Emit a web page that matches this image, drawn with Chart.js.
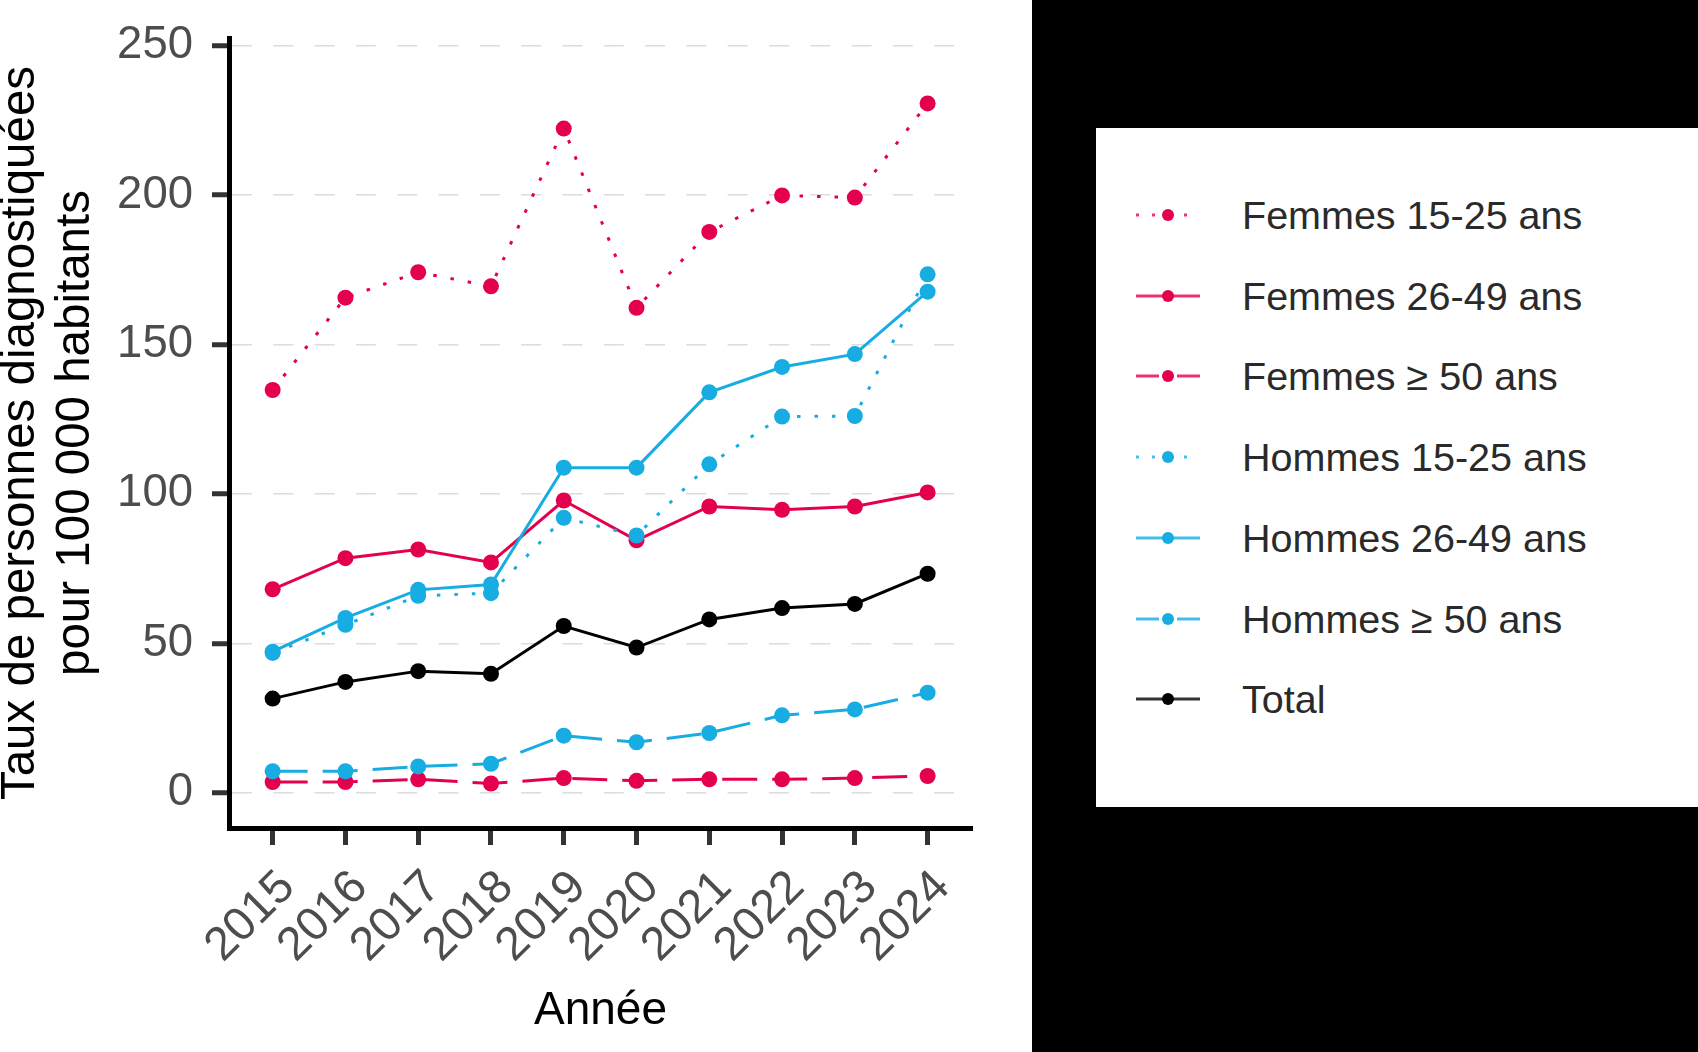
<!DOCTYPE html>
<html lang="fr">
<head>
<meta charset="utf-8">
<title>Taux de personnes diagnostiquées</title>
<script src="https://cdn.jsdelivr.net/npm/chart.js@4.4.1/dist/chart.umd.min.js"></script>
<style>
  html, body { margin: 0; padding: 0; background: #000; }
  #wrap { position: relative; width: 1698px; height: 1052px; overflow: hidden; }
  #left { position: absolute; left: 0; top: 0; width: 1032px; height: 1052px; background: #fff; }
  #legend { position: absolute; left: 1096px; top: 128px; width: 602px; height: 679px; background: #fff;
            font-family: 'Liberation Sans', Arial, sans-serif; }
  .item { position: absolute; left: 0; height: 40px; display: flex; align-items: center; }
  .item canvas { margin-left: 32px; }
  .item span { position: absolute; left: 146px; font-size: 39.5px; color: #2a2a2a; white-space: nowrap; }
</style>
</head>
<body>
<div id="wrap">
  <div id="left"><canvas id="chart" width="1032" height="1052"></canvas></div>
  <div id="legend"></div>
</div>
<script>
  const years = [2015, 2016, 2017, 2018, 2019, 2020, 2021, 2022, 2023, 2024];
  const femmes1525 = [134.8, 165.7, 174.2, 169.5, 222.3, 162.3, 187.7, 199.9, 199.2, 230.7];
  const femmes2649 = [68.1, 78.5, 81.4, 77.1, 97.8, 84.5, 95.8, 94.7, 95.8, 100.5];
  const femmes50 = [3.6, 3.6, 4.5, 3.1, 4.9, 4.0, 4.5, 4.5, 4.9, 5.6];
  const hommes1525 = [46.8, 56.2, 65.9, 66.8, 92.0, 86.1, 109.9, 125.9, 126.1, 173.5];
  const hommes2649 = [47.2, 58.5, 67.9, 69.7, 108.8, 108.8, 134.0, 142.5, 146.8, 167.7];
  const hommes50 = [7.2, 7.2, 8.8, 9.7, 19.1, 16.9, 20.0, 25.9, 27.9, 33.5];
  const total = [31.5, 37.1, 40.7, 39.8, 55.8, 48.6, 58.0, 61.8, 63.2, 73.3];
  const yTicks = [0, 50, 100, 150, 200, 250];

  const PINK = "#e4004f";
  const BLUE = "#17ade2";
  const FONT = "'Liberation Sans', Arial, sans-serif";

  const DOTTED = [3.5, 14];
  const LONGDASH = [35, 15];

  const series = [
    { label: "Femmes 15-25 ans", values: femmes1525, color: PINK, dash: DOTTED, legendDash: [3, 13] },
    { label: "Femmes 26-49 ans", values: femmes2649, color: PINK, dash: [], legendDash: [] },
    { label: "Femmes \u2265 50 ans", values: femmes50, color: PINK, dash: LONGDASH, legendDash: [23, 18] },
    { label: "Hommes 15-25 ans", values: hommes1525, color: BLUE, dash: DOTTED, legendDash: [3, 13] },
    { label: "Hommes 26-49 ans", values: hommes2649, color: BLUE, dash: [], legendDash: [] },
    { label: "Hommes \u2265 50 ans", values: hommes50, color: BLUE, dash: LONGDASH, legendDash: [23, 18] },
    { label: "Total", values: total, color: "#000", dash: [], legendDash: [] },
  ];

  const datasets = series.map((s, i) => ({
    label: s.label,
    data: years.map((yr, k) => ({ x: yr, y: s.values[k] })),
    borderColor: s.color,
    backgroundColor: s.color,
    borderWidth: 3,
    borderDash: s.dash,
    pointRadius: 8,
    pointBorderWidth: 0,
    pointBackgroundColor: s.color,
    tension: 0,
    order: 10 - i, // later series drawn on top, like ggplot
  }));

  new Chart(document.getElementById("chart").getContext("2d"), {
    type: "line",
    data: { datasets },
    options: {
      responsive: false,
      animation: false,
      devicePixelRatio: 1,
      layout: { padding: { top: 38, right: 60, left: 0, bottom: 0 } },
      plugins: { legend: { display: false }, tooltip: { enabled: false } },
      scales: {
        x: {
          type: "linear",
          min: 2014.4,
          max: 2024.61,
          afterBuildTicks: (scale) => { scale.ticks = years.map((v) => ({ value: v })); },
          afterFit: (scale) => { scale.height = 224; },
          ticks: {
            callback: (v) => String(v),
            autoSkip: false,
            minRotation: 45,
            maxRotation: 45,
            padding: 15,
            labelOffset: 15,
            color: "#4d4d4d",
            font: { family: FONT, size: 47 },
          },
          grid: {
            drawOnChartArea: false,
            drawTicks: true,
            tickLength: 17,
            tickWidth: 5,
            tickColor: "#333",
          },
          border: { display: true, color: "#000", width: 5 },
          title: {
            display: true,
            text: "Année",
            color: "#000",
            font: { family: FONT, size: 46, lineHeight: 1.2 },
            padding: { top: 0, bottom: 13 },
          },
        },
        y: {
          type: "linear",
          min: -11.8,
          max: 252.6,
          afterBuildTicks: (scale) => { scale.ticks = yTicks.map((v) => ({ value: v })); },
          afterFit: (scale) => {
            scale.width = 229;
            scale.paddingTop = 0;
            scale.paddingBottom = 0;
          },
          ticks: {
            padding: 19,
            color: "#4d4d4d",
            font: { family: FONT, size: 45.5 },
          },
          grid: {
            color: "#dcdcdc",
            lineWidth: 1.5,
            drawTicks: true,
            tickLength: 17,
            tickWidth: 5,
            tickColor: "#333",
            tickBorderDash: [],
          },
          border: { display: true, color: "#000", width: 5, dash: [20, 21.3] },
          title: {
            display: true,
            text: ["Taux de personnes diagnostiquées", "pour 100 000 habitants"],
            color: "#000",
            font: { family: FONT, size: 47.5, lineHeight: 1.16 },
            padding: { top: -7, bottom: 0 },
          },
        },
      },
    },
  });

  // legend built from the same series
  const legendRows = [87, 168, 248, 329, 410, 491, 571];
  const legend = document.getElementById("legend");
  series.forEach((s, i) => {
    const row = document.createElement("div");
    row.className = "item";
    row.style.top = (legendRows[i] - 20) + "px";
    const c = document.createElement("canvas");
    c.width = 80;
    c.height = 24;
    const g = c.getContext("2d");
    g.strokeStyle = s.color;
    g.globalAlpha = 0.8;
    g.lineWidth = 3;
    g.setLineDash(s.legendDash);
    g.beginPath();
    g.moveTo(8, 12);
    g.lineTo(72, 12);
    g.stroke();
    g.globalAlpha = 1;
    g.setLineDash([]);
    g.fillStyle = s.color;
    g.beginPath();
    g.arc(40, 12, 6, 0, Math.PI * 2);
    g.fill();
    const t = document.createElement("span");
    t.textContent = s.label;
    row.appendChild(c);
    row.appendChild(t);
    legend.appendChild(row);
  });
</script>
</body>
</html>
